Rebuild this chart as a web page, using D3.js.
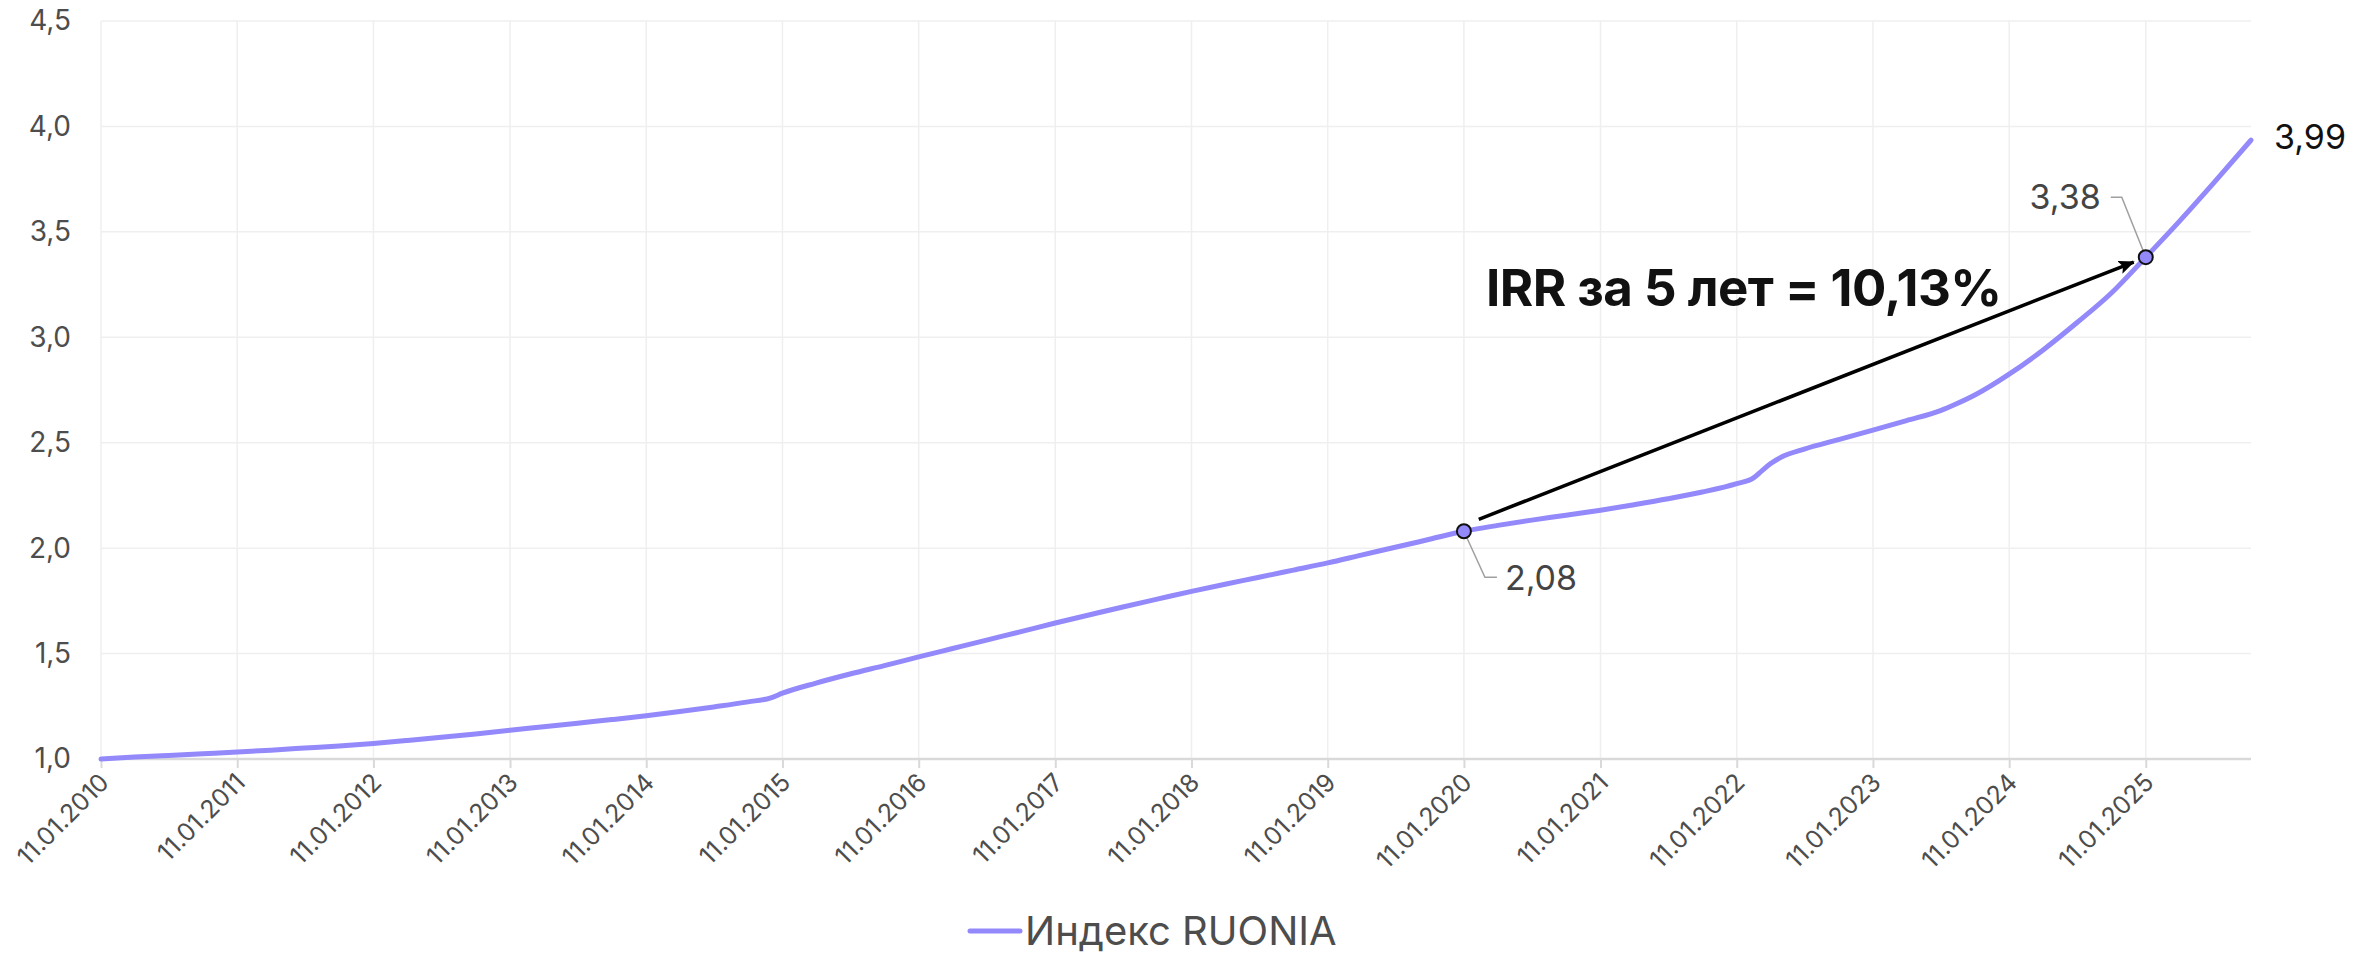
<!DOCTYPE html>
<html>
<head>
<meta charset="utf-8">
<script src="https://cdn.jsdelivr.net/npm/d3@7"></script>
<style>
  html, body { margin: 0; padding: 0; background: #fff; }
  svg { display: block; font-family: Inter, "Noto Sans", sans-serif; }
</style>
</head>
<body>
<div id="chart"></div>
<script>
// RUONIA index
var dates = [
  "2010-01-11", "2010-04-11", "2010-07-11", "2010-10-11",
  "2011-01-11", "2011-04-11", "2011-07-11", "2011-10-11",
  "2012-01-11", "2012-04-11", "2012-07-11", "2012-10-11",
  "2013-01-11", "2013-04-11", "2013-07-11", "2013-10-11",
  "2014-01-11", "2014-04-11", "2014-07-11", "2014-10-11", "2014-12-11",
  "2015-01-11", "2015-04-11", "2015-07-11", "2015-10-11",
  "2016-01-11", "2016-04-11", "2016-07-11", "2016-10-11",
  "2017-01-11", "2017-04-11", "2017-07-11", "2017-10-11",
  "2018-01-11", "2018-04-11", "2018-07-11", "2018-10-11",
  "2019-01-11", "2019-04-11", "2019-07-11", "2019-10-11",
  "2020-01-11", "2020-04-11", "2020-07-11", "2020-10-11",
  "2021-01-11", "2021-04-11", "2021-07-11", "2021-10-11",
  "2022-01-11", "2022-02-25", "2022-03-20", "2022-04-11", "2022-05-11", "2022-07-11", "2022-10-11",
  "2023-01-11", "2023-04-11", "2023-07-11", "2023-08-20", "2023-10-11",
  "2024-01-11", "2024-04-11", "2024-07-11", "2024-10-11",
  "2025-01-11", "2025-04-11", "2025-07-11", "2025-10-20"
];
var values = [
  1.000, 1.009, 1.017, 1.025,
  1.033, 1.042, 1.052, 1.062,
  1.074, 1.088, 1.103, 1.119,
  1.136, 1.153, 1.170, 1.187,
  1.205, 1.225, 1.247, 1.271, 1.290,
  1.312, 1.360, 1.403, 1.443,
  1.484, 1.524, 1.564, 1.604,
  1.645, 1.683, 1.721, 1.758,
  1.795, 1.829, 1.862, 1.896,
  1.930, 1.967, 2.004, 2.042,
  2.080, 2.108, 2.133, 2.156,
  2.180, 2.206, 2.234, 2.266,
  2.306, 2.333, 2.368, 2.400, 2.432, 2.470, 2.515,
  2.560, 2.605, 2.652, 2.682, 2.726,
  2.825, 2.940, 3.070, 3.210,
  3.380, 3.550, 3.730, 3.935
];
var yTicks = [1.0, 1.5, 2.0, 2.5, 3.0, 3.5, 4.0, 4.5];
var xTickYears = [2010, 2011, 2012, 2013, 2014, 2015, 2016, 2017, 2018, 2019, 2020, 2021, 2022, 2023, 2024, 2025];
var seriesName = "Индекс RUONIA";
var markedDates = ["2020-01-11", "2025-01-11"];
var endLabel = "3,99";
var irrText = "IRR за 5 лет = 10,13%";

(function () {
    var width = 2361,
        height = 956,
        mLeft = 101,
        mRight = 2251,
        mTop = 21,
        mBottom = 759,
        lineColor = "#9389fb",
        textColor = "#4d4d4d";

    var parse = d3.timeParse("%Y-%m-%d");
    var data = dates.map(function (d, i) {
        return { date: parse(d), value: values[i] };
    });

    var x = d3.scaleTime()
        .domain([parse("2010-01-11"), parse("2025-10-20")])
        .range([mLeft, mRight]);
    var y = d3.scaleLinear()
        .domain([1, 4.5])
        .range([mBottom, mTop]);

    var comma = function (v, digits) {
        return v.toFixed(digits).replace(".", ",");
    };

    var svg = d3.select("#chart").append("svg")
        .attr("width", width)
        .attr("height", height);

    svg.append("defs").append("marker")
        .attr("id", "arrow")
        .attr("markerUnits", "userSpaceOnUse")
        .attr("viewBox", "0 0 14 12")
        .attr("refX", 13)
        .attr("refY", 6)
        .attr("markerWidth", 16)
        .attr("markerHeight", 14)
        .attr("orient", "auto")
        .append("path")
        .attr("d", "M0,0 L14,6 L0,12 L3,6 Z")
        .attr("fill", "#000");

    var xTicks = xTickYears.map(function (yr) { return parse(yr + "-01-11"); });

    // grid
    svg.append("g").selectAll("line").data(yTicks.slice(1)).enter().append("line")
        .attr("x1", mLeft).attr("x2", mRight)
        .attr("y1", function (d) { return y(d); })
        .attr("y2", function (d) { return y(d); })
        .attr("stroke", "#efefef").attr("stroke-width", 1.5);
    svg.append("g").selectAll("line").data(xTicks).enter().append("line")
        .attr("x1", function (d) { return x(d); })
        .attr("x2", function (d) { return x(d); })
        .attr("y1", mTop).attr("y2", mBottom)
        .attr("stroke", "#efefef").attr("stroke-width", 1.5);

    // y axis
    var yAxis = svg.append("g")
        .attr("transform", "translate(" + mLeft + ",0)")
        .call(d3.axisLeft(y).tickValues(yTicks).tickSize(0).tickPadding(30)
            .tickFormat(function (d) { return comma(d, 1); }));
    yAxis.select(".domain").remove();
    yAxis.selectAll("text")
        .attr("fill", textColor)
        .style("font-size", "28px")
        .style("font-family", "Inter, sans-serif");

    // x axis
    var xAxis = svg.append("g")
        .attr("transform", "translate(0," + mBottom + ")")
        .call(d3.axisBottom(x).tickValues(xTicks).tickSize(9)
            .tickFormat(d3.timeFormat("%d.%m.%Y")));
    xAxis.select(".domain").attr("stroke", "#d9d9d9").attr("stroke-width", 2.5)
        .attr("d", "M" + mLeft + ",0H" + mRight);
    xAxis.selectAll(".tick line").attr("stroke", "#d9d9d9").attr("stroke-width", 2);
    xAxis.selectAll("text")
        .attr("fill", textColor)
        .style("font-size", "25px")
        .style("font-family", "Inter, sans-serif")
        .attr("text-anchor", "end")
        .attr("dy", null)
        .attr("y", 0)
        .attr("transform", "translate(9,25) rotate(-45)");

    // line
    var line = d3.line()
        .x(function (d) { return x(d.date); })
        .y(function (d) { return y(d.value); })
        .curve(d3.curveMonotoneX);
    svg.append("path")
        .datum(data)
        .attr("d", line)
        .attr("fill", "none")
        .attr("stroke", lineColor)
        .attr("stroke-width", 5)
        .attr("stroke-linecap", "round");

    // arrow between marked points
    var marked = markedDates.map(function (md) {
        var d = data[dates.indexOf(md)];
        return { x: x(d.date), y: y(d.value), value: d.value };
    });
    var p1 = marked[0], p2 = marked[1];
    var len = Math.hypot(p2.x - p1.x, p2.y - p1.y),
        ux = (p2.x - p1.x) / len,
        uy = (p2.y - p1.y) / len;
    svg.append("line")
        .attr("x1", p1.x + 16 * ux).attr("y1", p1.y + 16 * uy - 6)
        .attr("x2", p2.x - 13 * ux).attr("y2", p2.y - 13 * uy)
        .attr("stroke", "#000").attr("stroke-width", 3.5)
        .attr("marker-end", "url(#arrow)");

    // leader lines and labels
    svg.append("polyline")
        .attr("points", [[p1.x, p1.y], [p1.x + 21, p1.y + 46], [p1.x + 33, p1.y + 46]].join(" "))
        .attr("fill", "none").attr("stroke", "#a0a0a0").attr("stroke-width", 1.5);
    svg.append("text")
        .attr("x", p1.x + 41).attr("y", p1.y + 46)
        .attr("dy", "0.36em")
        .attr("fill", "#444")
        .style("font-size", "34px")
        .text(comma(p1.value, 2));

    svg.append("polyline")
        .attr("points", [[p2.x, p2.y], [p2.x - 24, p2.y - 60], [p2.x - 35, p2.y - 60]].join(" "))
        .attr("fill", "none").attr("stroke", "#a0a0a0").attr("stroke-width", 1.5);
    svg.append("text")
        .attr("x", p2.x - 45).attr("y", p2.y - 60)
        .attr("dy", "0.36em")
        .attr("text-anchor", "end")
        .attr("fill", "#444")
        .style("font-size", "34px")
        .text(comma(p2.value, 2));

    svg.append("g").selectAll("circle").data(marked).enter().append("circle")
        .attr("cx", function (d) { return d.x; })
        .attr("cy", function (d) { return d.y; })
        .attr("r", 7)
        .attr("fill", lineColor)
        .attr("stroke", "#111")
        .attr("stroke-width", 2);

    // end label
    var last = data[data.length - 1];
    svg.append("text")
        .attr("x", x(last.date) + 23).attr("y", y(last.value) - 3)
        .attr("dy", "0.36em")
        .attr("fill", "#111")
        .style("font-size", "34px")
        .text(endLabel);

    // IRR text
    svg.append("text")
        .attr("x", p1.x + 22).attr("y", 306)
        .attr("fill", "#111")
        .style("font-size", "51px")
        .style("font-weight", "bold")
        .style("letter-spacing", "-0.5px")
        .text(irrText);

    // legend
    var legend = svg.append("g").attr("transform", "translate(968,931)");
    legend.append("line")
        .attr("x1", 2).attr("x2", 52)
        .attr("stroke", lineColor).attr("stroke-width", 5)
        .attr("stroke-linecap", "round");
    legend.append("text")
        .attr("x", 57).attr("dy", "0.36em")
        .attr("fill", textColor)
        .style("font-size", "40px")
        .text(seriesName);
})();
</script>
</body>
</html>
